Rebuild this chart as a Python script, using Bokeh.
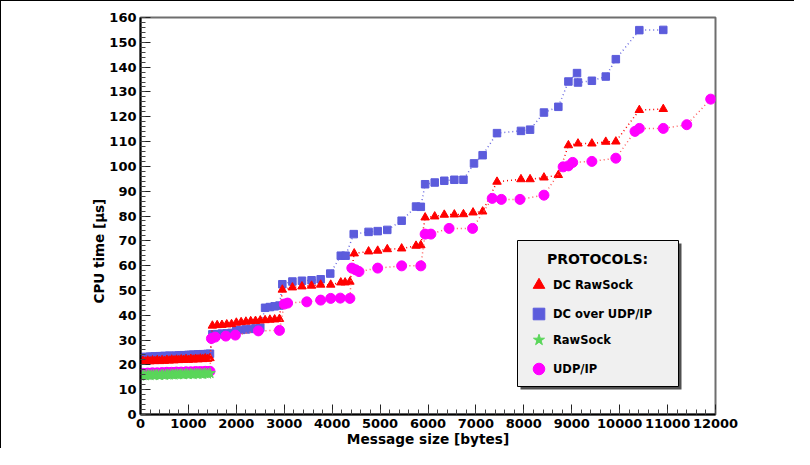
from bokeh.plotting import figure
from bokeh.models import (Range1d, SingleIntervalTicker, Legend, LegendItem,
                          Label, BoxAnnotation, Title)
from bokeh.embed import file_html
from bokeh.resources import INLINE

# ---------------- data ----------------
msg_lo = [0, 50, 100, 150, 200, 250, 300, 350, 400, 450, 500, 550, 600, 650, 700,
          750, 800, 850, 900, 950, 1000, 1050, 1100, 1150, 1200, 1250, 1300, 1350, 1400, 1450]
msg_mid = [1500, 1600, 1700, 1800, 1900, 2000, 2100, 2200, 2300, 2400, 2500,
           2600, 2700, 2800, 2900]

# DC over UDP/IP (blue squares)
dcudp_lo = [23.0, 23.1, 23.2, 23.1, 23.3, 23.3, 23.4, 23.3, 23.5, 23.5, 23.6, 23.5, 23.7, 23.6, 23.5,
            23.7, 23.8, 23.8, 23.9, 23.8, 24.0, 24.0, 24.1, 24.0, 24.2, 24.2, 24.3, 24.3, 24.4, 24.5]
dcudp_mid = [32.3, 32.4, 32.6, 32.7, 32.9, 34.0, 34.1, 34.3, 34.5, 34.7, 35.0,
             43.0, 43.3, 43.6, 43.9]
dcudp_hi_x = [2960, 3170, 3370, 3570, 3760, 3960, 4180, 4280, 4450, 4760, 4950, 5150, 5450,
              5750, 5850, 5940, 6140, 6340, 6550, 6740, 6960, 7140, 7440, 7940, 8130, 8420,
              8720, 8930, 9110, 9130, 9420, 9710, 9920, 10410, 10910]
dcudp_hi_y = [52.5, 53.6, 53.9, 54.1, 54.5, 56.8, 64.0, 64.0, 72.7, 73.6, 73.9, 74.4, 78.1,
              83.8, 83.7, 92.8, 93.5, 94.2, 94.6, 94.6, 101.2, 104.5, 113.4, 114.3, 114.8, 121.7,
              124.0, 134.2, 137.6, 133.8, 134.5, 136.2, 143.2, 154.9, 155.0]

# DC RawSock (red triangles)
dcraw_lo = [21.2, 21.6, 21.3, 21.7, 21.4, 21.8, 21.5, 21.9, 21.5, 21.9, 21.6, 22.0, 21.7, 22.1, 21.8,
            22.1, 21.9, 22.2, 22.0, 22.3, 22.0, 22.4, 22.1, 22.4, 22.2, 22.5, 22.3, 22.6, 22.4, 22.7]
dcraw_mid = [35.8, 36.0, 36.1, 36.3, 36.4, 37.0, 37.2, 37.4, 37.6, 37.7, 37.9, 38.0, 38.2, 38.3, 38.5]
dcraw_hi_x = [2960, 3170, 3370, 3570, 3760, 3970, 4180, 4270, 4370, 4460, 4760, 4950, 5150,
              5450, 5750, 5850, 5940, 6140, 6340, 6550, 6740, 6940, 7140, 7440, 7940, 8130,
              8420, 8720, 8930, 9130, 9420, 9710, 9920, 10410, 10910]
dcraw_hi_y = [50.3, 51.2, 51.6, 51.9, 52.3, 52.3, 53.2, 53.2, 53.5, 64.9, 65.7, 66.0, 66.6,
              66.9, 68.0, 68.2, 79.4, 79.8, 80.5, 80.6, 80.7, 81.4, 81.8, 93.8, 94.8, 94.8,
              95.5, 96.5, 108.5, 109.2, 109.2, 109.9, 110.0, 122.7, 123.1]

# RawSock (green stars)
raw_lo = [15.6, 15.9, 15.7, 16.0, 15.8, 16.0, 15.9, 16.1, 15.8, 16.1, 15.9, 16.2, 16.0, 16.2, 16.0,
          16.3, 16.1, 16.3, 16.1, 16.4, 16.2, 16.4, 16.2, 16.5, 16.3, 16.5, 16.3, 16.6, 16.4, 16.6]

# UDP/IP (magenta circles)
udp_lo = [16.2, 16.6, 16.3, 16.7, 16.4, 16.8, 16.5, 16.8, 16.5, 16.9, 16.6, 17.0, 16.7, 17.0, 16.8,
          17.1, 16.9, 17.1, 16.9, 17.2, 17.0, 17.2, 17.0, 17.3, 17.1, 17.3, 17.1, 17.4, 17.2, 17.4]
udp_hi_x = [1480, 1560, 1780, 1980, 2460, 2900, 3000, 3070, 3470, 3760, 3970, 4170, 4370,
            4410, 4490, 4560, 4950, 5450, 5850, 5940, 6060, 6440, 6930, 7340, 7530, 7920,
            8420, 8820, 8930, 9020, 9420, 9920, 10320, 10410, 10910, 11400, 11900]
udp_hi_y = [30.6, 31.2, 31.6, 32.0, 33.7, 33.9, 44.5, 44.9, 45.4, 46.1, 46.8, 46.9, 46.8,
            59.0, 58.3, 57.6, 59.0, 59.9, 59.9, 72.7, 72.7, 75.0, 75.0, 87.1, 86.7, 86.7,
            88.4, 99.8, 100.2, 101.6, 102.0, 103.3, 114.1, 115.3, 115.3, 116.8, 127.1]

x_ticks_step = 1000
y_ticks_step = 10

# ---------------- assemble series ----------------
dcudp_x = msg_lo + msg_mid + dcudp_hi_x
dcudp_y = dcudp_lo + dcudp_mid + dcudp_hi_y
dcraw_x = msg_lo + msg_mid + dcraw_hi_x
dcraw_y = dcraw_lo + dcraw_mid + dcraw_hi_y
raw_x = msg_lo
raw_y = raw_lo
udp_x = msg_lo + udp_hi_x
udp_y = udp_lo + udp_hi_y

FONT = "DejaVu Sans"
BLUE = "#5c5cdc"
RED = "#ff0000"
MAG = "#ff00ff"
GREEN = "#5ad65a"

p = figure(width=794, height=448, output_backend="svg", toolbar_location=None,
           x_range=Range1d(0, 12000), y_range=Range1d(0, 160),
           min_border_left=139, min_border_right=80, min_border_top=16, min_border_bottom=35,
           background_fill_color="white", border_fill_color="white")
p.styles = {"border-top": "1px solid black", "border-left": "1px solid black"}
p.grid.visible = False
p.outline_line_color = "#6e6e6e"
p.outline_line_width = 2

for ax in (p.xaxis[0], p.yaxis[0]):
    ax.axis_line_color = "black"
    ax.axis_line_width = 2
    ax.major_tick_in = 10
    ax.major_tick_out = 0
    ax.minor_tick_in = 5
    ax.minor_tick_out = 0
    ax.major_tick_line_color = "#222222"
    ax.minor_tick_line_color = "#444444"
    ax.major_label_text_font = FONT
    ax.major_label_text_font_style = "bold"
    ax.major_label_text_font_size = "13px"
    ax.major_label_text_color = "black"

p.xaxis.ticker = SingleIntervalTicker(interval=x_ticks_step, num_minor_ticks=5)
p.yaxis.ticker = SingleIntervalTicker(interval=y_ticks_step, num_minor_ticks=5)
p.xaxis.major_label_standoff = 4
p.yaxis.major_label_standoff = 4
p.xaxis.axis_label = "Message size [bytes]"
p.xaxis.axis_label_standoff = 0
p.xaxis.axis_label_text_font = FONT
p.xaxis.axis_label_text_font_style = "bold"
p.xaxis.axis_label_text_font_size = "13.7px"
p.xaxis.axis_label_text_color = "black"

# y-axis title, starting ~111 px above the frame bottom as in the original
p.add_layout(Title(text="CPU time [µs]", align="left", offset=111, standoff=0,
                   text_font=FONT, text_font_style="bold", text_font_size="13.5px",
                   text_color="black"), "left")

# series: lines then markers
p.line(dcudp_x, dcudp_y, line_color="#6a6ae0", line_width=1.5, line_dash="1 3")
r_udpdc = p.scatter(dcudp_x, dcudp_y, marker="square", size=7.5, fill_color=BLUE,
                    line_color=BLUE)
p.line(dcraw_x, dcraw_y, line_color=RED, line_width=1.5, line_dash="1 3")
r_dcraw = p.scatter(dcraw_x, dcraw_y, marker="triangle", size=8.5, fill_color=RED,
                    line_color=RED)
p.line(udp_x, udp_y, line_color="#ff5a5a", line_width=1.5, line_dash="1 3")
r_udp = p.scatter(udp_x, udp_y, marker="circle", size=10, fill_color=MAG, line_color=MAG)
p.line(raw_x, raw_y, line_color=GREEN, line_width=1.5, line_dash="1 3")
r_raw = p.scatter(raw_x, raw_y, marker="star", size=11, fill_color=GREEN, line_color=GREEN)

# legend box with shadow
p.add_layout(BoxAnnotation(left=380, right=541, top=171, bottom=25,
                           left_units="screen", right_units="screen",
                           top_units="screen", bottom_units="screen",
                           fill_color="#505050", fill_alpha=1, line_alpha=0))
p.add_layout(BoxAnnotation(left=377, right=538, top=174, bottom=28,
                           left_units="screen", right_units="screen",
                           top_units="screen", bottom_units="screen",
                           fill_color="#f0f0f0", fill_alpha=1, line_color="black",
                           line_width=1, line_alpha=1))
p.add_layout(Label(x=457, y=156, x_units="screen", y_units="screen", text="PROTOCOLS:",
                   text_align="center", text_baseline="middle", text_font=FONT,
                   text_font_style="bold", text_font_size="14px", text_color="black"))

def make_legend(items, loc, spacing):
    return Legend(items=items, location=loc, orientation="vertical",
                  glyph_width=29, glyph_height=29, label_height=18, label_standoff=0,
                  spacing=spacing, padding=0, margin=0,
                  background_fill_alpha=0, border_line_alpha=0,
                  label_text_font=FONT, label_text_font_style="bold",
                  label_text_font_size="11.5px", label_text_color="black")

leg1 = make_legend([LegendItem(label="DC RawSock", renderers=[r_dcraw]),
                    LegendItem(label="DC over UDP/IP", renderers=[r_udpdc])], (384, 86), -10)
leg2 = make_legend([LegendItem(label="RawSock", renderers=[r_raw]),
                    LegendItem(label="UDP/IP", renderers=[r_udp])], (384, 31), -8)
p.add_layout(leg1, "center")
p.add_layout(leg2, "center")

open("out.html", "w").write(file_html(p, INLINE))
